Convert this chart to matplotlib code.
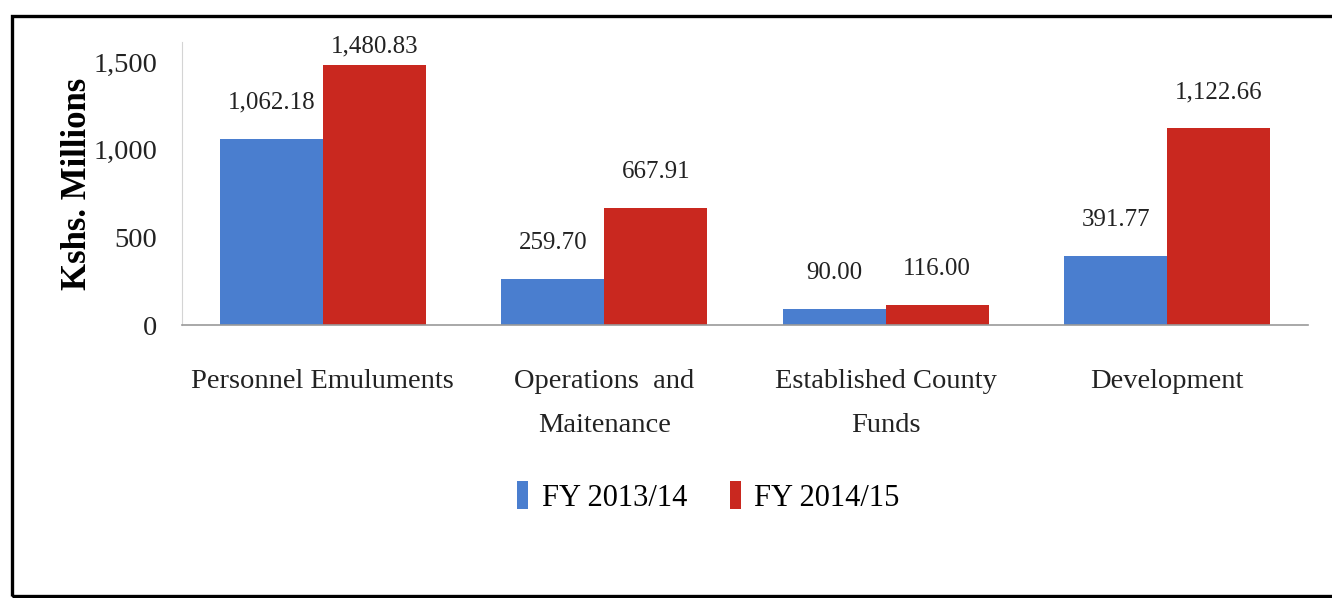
import matplotlib.pyplot as plt
import numpy as np
from matplotlib.patches import Rectangle

# data (Kshs. Millions)
categories = ['Personnel Emuluments', 'Operations  and\nMaitenance',
              'Established County\nFunds', 'Development']
fy_2013_14 = [1062.18, 259.70, 90.00, 391.77]
fy_2014_15 = [1480.83, 667.91, 116.00, 1122.66]
series_names = ['FY 2013/14', 'FY 2014/15']
yticks = [0, 500, 1000, 1500]

plt.rcParams['font.family'] = ['Liberation Serif', 'DejaVu Serif']

fig = plt.figure(figsize=(13.32, 5.98), dpi=100)
ax = fig.add_axes([0.1366, 0.4565, 0.8454, 0.4733])

x = np.arange(len(categories))
w = 0.366
b1 = ax.bar(x - w/2, fy_2013_14, w, color='#4A7ECF', label=series_names[0])
b2 = ax.bar(x + w/2, fy_2014_15, w, color='#C9281F', label=series_names[1])

# value labels above the bars
for bars, vals in [(b1, fy_2013_14), (b2, fy_2014_15)]:
    for rect, v in zip(bars, vals):
        off = 6 if v > 1400 else 18
        ax.annotate(f'{v:,.2f}', (rect.get_x() + rect.get_width()/2, v),
                    xytext=(0, off), textcoords='offset points',
                    ha='center', va='bottom', fontsize=18, color='#222222')

ax.set_xlim(-0.5, 3.5)
ax.set_ylim(0, 1614)
ax.set_yticks(yticks)
ax.set_yticklabels([f'{t:,}' for t in yticks])
ax.set_xticks(x)
ax.set_xticklabels(categories, linespacing=2.0)
ax.tick_params(axis='y', length=0, pad=18, labelsize=20.5, labelcolor='#222222')
ax.tick_params(axis='x', length=0, pad=32, labelsize=20.5, labelcolor='#222222')

for s in ['top', 'right']:
    ax.spines[s].set_visible(False)
ax.spines['left'].set_color('#d4d4d4')
ax.spines['bottom'].set_color('#9a9a9a')
ax.spines['bottom'].set_linewidth(1.2)

ax.set_ylabel('Kshs. Millions', fontsize=25, fontweight='bold')
ax.yaxis.set_label_coords(-0.078, 0.5)

fig.legend(loc='center', bbox_to_anchor=(0.532, 0.169), ncol=2, frameon=False,
           fontsize=22, handlelength=0.35, handleheight=1.0, handletextpad=0.45,
           columnspacing=1.4)

# black border around the whole picture
fig.patches.append(Rectangle((12/1332, 2/598), 1.1, 1 - 18/598,
                             transform=fig.transFigure, fill=False,
                             edgecolor='black', linewidth=2.4))

plt.savefig('out.png', dpi=100)
